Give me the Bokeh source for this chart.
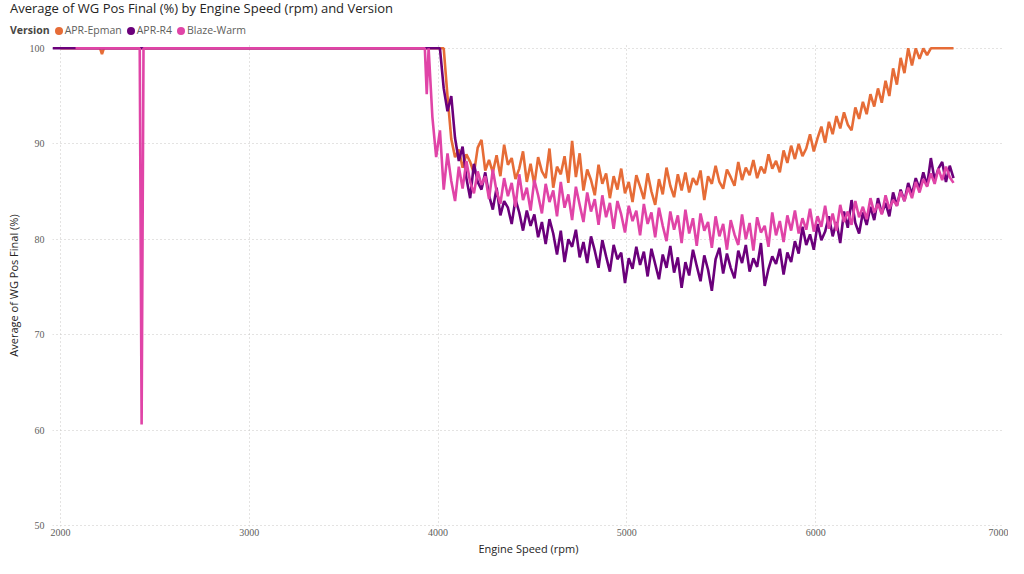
from bokeh.plotting import figure
from bokeh.models import Range1d, FixedTicker, Div
from bokeh.layouts import column
from bokeh.embed import file_html
from bokeh.resources import INLINE

TITLE = "Average of WG Pos Final (%) by Engine Speed (rpm) and Version"
LEGEND_TITLE = "Version"
SERIES = ["APR-Epman", "APR-R4", "Blaze-Warm"]
COLORS = ["#E66C37", "#6B007B", "#E044A7"]
X_TICKS = [2000, 3000, 4000, 5000, 6000, 7000]
Y_TICKS = [50, 60, 70, 80, 90, 100]

# flat / sparse part below ~3950 rpm
EPMAN_LOW_RPM = [2000, 2210, 2220, 2230, 3930]
EPMAN_LOW_VAL = [100, 100, 99.4, 100, 100]
R4_LOW_RPM = [1958, 3930]
R4_LOW_VAL = [100, 100]
BLAZE_LOW_RPM = [2080, 2420, 2430, 2440, 3930, 3940]
BLAZE_LOW_VAL = [100, 100, 60.6, 100, 100, 95.2]

# dense part, one value every 20 rpm from 3950 to 6730 rpm
RPM_HIGH = list(range(3950, 6731, 20))
EPMAN_HIGH = [
    100, 100, 100, 100, 100, 95.0, 90.5, 88.6, 89.4, 87.5,
    88.9, 88.1, 86.9, 89.6, 90.4, 87.2, 88.3, 87.0, 88.8, 86.6,
    89.9, 87.8, 88.5, 86.3, 87.4, 89.2, 86.0, 87.9, 85.7, 88.6,
    87.1, 86.4, 89.5, 85.4, 87.6, 86.8, 88.7, 85.9, 90.3, 86.5,
    89.0, 85.1, 87.3, 86.2, 84.6, 87.8, 85.8, 86.9, 84.3, 86.6,
    85.2, 87.4, 84.8, 86.0, 83.9, 86.7, 85.5, 84.2, 86.9, 85.0,
    83.6, 86.3, 84.7, 87.5, 85.6, 84.4, 86.8, 85.1, 87.0, 84.9,
    86.4, 85.7, 87.2, 84.1, 86.6, 85.8, 87.7, 86.0, 85.3, 87.3,
    86.5, 85.6, 88.1, 86.2, 87.5, 86.7, 88.3, 86.4, 87.6, 86.9,
    88.9, 87.4, 88.2, 87.0, 89.3, 88.0, 89.8, 88.4, 90.0, 88.7,
    89.5, 91.0, 89.2, 90.6, 91.8, 90.1, 92.3, 91.0, 92.9, 91.6,
    93.3, 92.0, 91.4, 93.8, 92.6, 94.4, 93.1, 95.2, 93.9, 95.8,
    94.3, 96.6, 95.0, 97.9, 96.2, 99.0, 97.4, 100, 98.2, 100,
    98.9, 100, 99.3, 100, 100, 100, 100, 100, 100, 100,
]
R4_HIGH = [
    100, 100, 100, 100, 95.8, 93.4, 95.0, 90.6, 88.2, 89.7,
    86.4, 84.3, 87.9, 86.0, 85.2, 87.0, 84.6, 83.1, 85.4, 82.5,
    84.0, 83.3, 81.6, 84.2, 82.8, 80.9, 83.0, 81.4, 82.6, 80.2,
    81.8, 79.5, 82.1, 80.6, 78.4, 80.9, 77.6, 80.0, 79.2, 81.0,
    78.1, 79.7, 77.5, 80.3, 78.8, 77.0, 79.9, 78.2, 76.6, 79.4,
    77.9, 78.6, 75.4, 78.0, 76.9, 79.2, 77.3, 78.7, 76.1, 79.0,
    77.4, 75.8, 78.4, 77.0, 79.3, 76.5, 78.1, 74.9, 77.6, 76.2,
    78.9, 77.2, 75.6, 78.3, 76.8, 74.6, 77.9, 79.1, 76.4, 78.5,
    77.0, 75.9, 78.8, 77.5, 79.4, 76.6, 78.0, 77.1, 79.6, 75.1,
    76.9, 78.2, 77.4, 79.0, 76.3, 78.6, 77.6, 79.8, 78.5, 81.3,
    79.4, 80.5, 78.9, 81.6, 79.9, 80.8, 82.4, 80.3, 81.8, 79.6,
    82.9, 81.2, 84.1, 81.7, 80.6, 82.8, 81.5, 83.4, 82.0, 84.3,
    82.7, 83.8, 82.4, 84.9, 83.5, 85.2, 84.0, 85.9, 84.7, 86.4,
    85.3, 87.0, 85.6, 88.5, 86.2, 87.4, 88.1, 86.0, 87.7, 86.4,
]
BLAZE_HIGH = [
    100, 92.8, 88.6, 91.4, 85.2, 89.0, 86.1, 84.0, 87.6, 85.3,
    88.2, 86.0, 84.8, 87.1, 85.7, 86.6, 84.2, 87.3, 85.0, 83.7,
    86.4, 84.5, 85.9, 83.4, 86.8, 84.1, 85.4, 83.0, 86.2, 84.6,
    82.7, 85.8, 83.9, 85.1, 82.4, 86.0, 83.3, 84.7, 82.0, 85.5,
    83.6, 81.8, 84.9, 82.9, 84.2, 81.5, 84.6, 82.3, 83.8, 81.1,
    84.0, 82.6, 80.7, 83.5, 81.9, 83.0, 80.4, 83.7, 81.6, 82.8,
    80.2, 83.3, 81.4, 79.8, 82.9, 81.0, 82.5, 79.6, 83.1, 80.6,
    82.2, 79.3, 82.7, 80.9, 81.8, 79.1, 82.4, 80.3, 81.6, 78.9,
    82.0, 80.5, 79.4, 82.6, 80.0, 81.7, 78.8, 82.3, 80.7, 81.4,
    79.2, 82.8, 80.4, 81.9, 79.7, 82.5, 80.9, 83.0, 80.6, 82.2,
    81.0, 83.2, 80.8, 82.4, 81.3, 83.5, 81.1, 82.7, 80.9, 83.6,
    81.8, 82.9, 81.5, 84.0, 82.3, 83.4, 82.1, 84.3, 82.8, 83.7,
    82.6, 84.6, 83.2, 84.1, 83.5, 85.0, 84.0, 85.4, 84.3, 86.0,
    84.9, 86.3, 85.5, 86.9, 85.8, 87.4, 86.2, 87.6, 86.5, 85.9,
]

series_x = [
    EPMAN_LOW_RPM + RPM_HIGH,
    R4_LOW_RPM + RPM_HIGH,
    BLAZE_LOW_RPM + RPM_HIGH,
]
series_y = [
    EPMAN_LOW_VAL + EPMAN_HIGH,
    R4_LOW_VAL + R4_HIGH,
    BLAZE_LOW_VAL + BLAZE_HIGH,
]

W = 1008
HEAD_H = 40
MAIN_H = 518

# ---------- header: title + legend (HTML text) ----------
legend_html = "".join(
    f'<span style="display:inline-block;width:8px;height:8px;border-radius:50%;'
    f'background:{col};margin:0 2px 0 {5 if i else 5}px;vertical-align:-1px;"></span>'
    f'<span style="color:#605E5C;">{name}</span>'
    for i, (name, col) in enumerate(zip(SERIES, COLORS))
)
header_html = (
    '<div style="position:relative;width:1008px;height:40px;font-family:\'Open Sans\',sans-serif;">'
    f'<div style="position:absolute;left:10px;top:0px;font-size:13px;line-height:17px;'
    f'color:#252423;white-space:nowrap;">{TITLE}</div>'
    '<div style="position:absolute;left:10px;top:23px;font-size:10.5px;line-height:14px;'
    'white-space:nowrap;">'
    f'<span style="font-weight:bold;color:#484644;">{LEGEND_TITLE}</span>'
    f'{legend_html}</div></div>'
)
head = Div(text=header_html, width=W, height=HEAD_H, margin=0)

# ---------- main chart ----------
p = figure(
    width=W, height=MAIN_H,
    x_range=Range1d(1958, 7000), y_range=Range1d(49.9, 100.4),
    output_backend="svg", toolbar_location=None,
    min_border_left=52, min_border_right=4, min_border_bottom=0, min_border_top=4,
    margin=0,
)
p.outline_line_color = None

for name, col, xs, ys in zip(SERIES, COLORS, series_x, series_y):
    p.line(xs, ys, line_color=col, line_width=2.6)

for ax in (p.xaxis[0], p.yaxis[0]):
    ax.axis_line_color = None
    ax.major_tick_line_color = None
    ax.minor_tick_line_color = None
    ax.major_tick_out = 0
    ax.major_tick_in = 0
    ax.minor_tick_out = 0
    ax.minor_tick_in = 0
    ax.major_label_text_font = "Liberation Sans Narrow"
    ax.major_label_text_font_size = "10px"
    ax.major_label_text_color = "#605E5C"
    ax.axis_label_text_font = "Open Sans"
    ax.axis_label_text_font_size = "11px"
    ax.axis_label_text_font_style = "normal"
    ax.axis_label_text_color = "#252423"
p.xaxis.major_label_standoff = 2
p.xaxis.axis_label_standoff = 2
p.yaxis.major_label_standoff = 8
p.yaxis.axis_label_standoff = 6

p.xaxis.ticker = FixedTicker(ticks=X_TICKS)
p.yaxis.ticker = FixedTicker(ticks=Y_TICKS)
p.xaxis.axis_label = "Engine Speed (rpm)"
p.yaxis.axis_label = "Average of WG Pos Final (%)"

for g in (p.xgrid[0], p.ygrid[0]):
    g.grid_line_color = "#C8C6C4"
    g.grid_line_dash = "1 3"
    g.grid_line_width = 1

layout = column(head, p, spacing=0)
open("out.html", "w").write(file_html(layout, INLINE))
